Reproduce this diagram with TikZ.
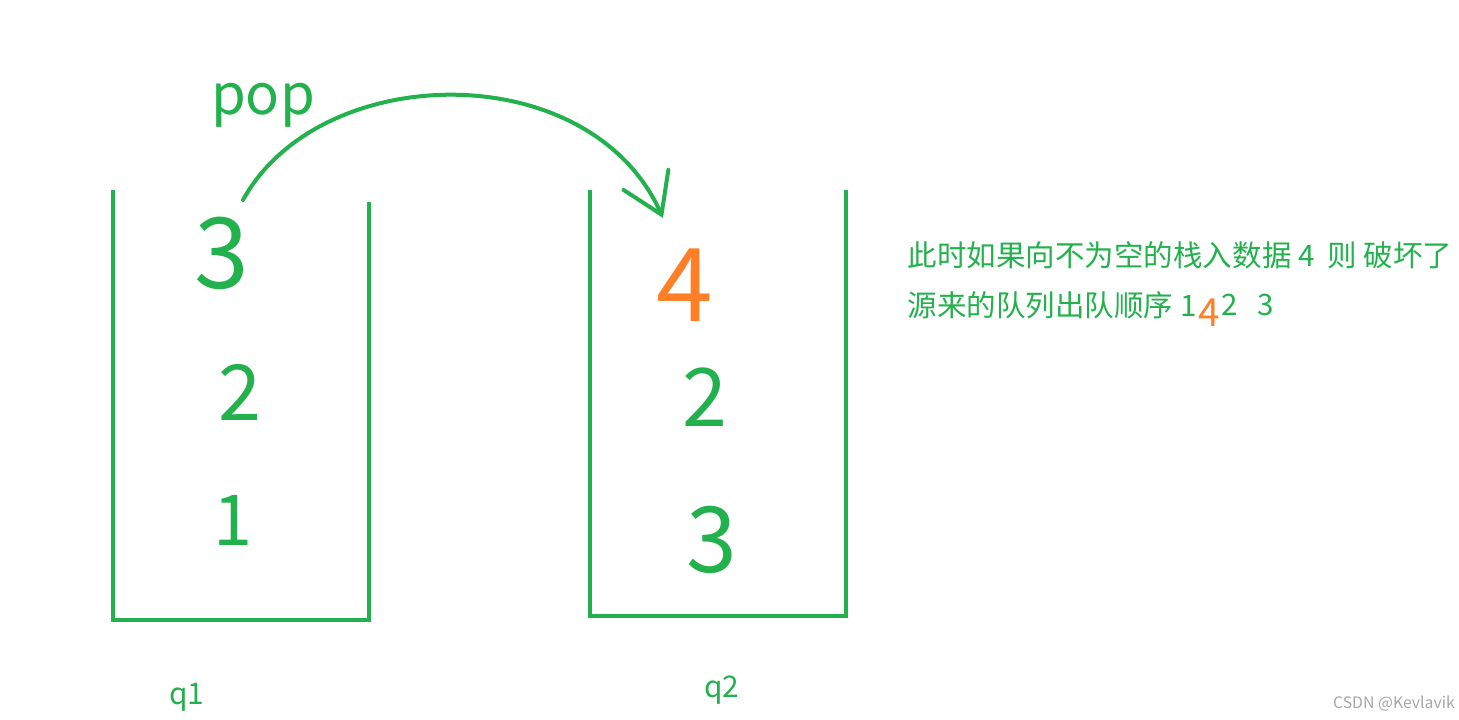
\documentclass[tikz,border=0pt]{standalone}
\usepackage{fontspec}
\setmainfont{Noto Sans CJK SC}
\usetikzlibrary{arrows.meta,positioning}
\definecolor{paintgreen}{RGB}{34,177,76}
\definecolor{paintorange}{RGB}{255,127,39}

\begin{document}
\begin{tikzpicture}
    \tikzstyle{wall} = [draw=paintgreen, line width=0.4mm, line join=miter]
    \tikzstyle{num} = [text=paintgreen, inner sep=0pt]
    \tikzstyle{note} = [text=paintgreen, inner sep=0pt, anchor=west, font=\fontsize{8.4}{10}\selectfont]
    \tikzstyle{popline} = [draw=paintgreen, line width=0.4mm, line cap=round, -{Straight Barb[length=3.8mm,width=4.9mm,line cap=round]}]

    \useasboundingbox (0,0) rectangle (14.59,-7.19);

    % Stack q1
    \draw[wall] (1.13,-1.90) -- (1.13,-6.20) -- (3.69,-6.20) -- (3.69,-2.02);
    \node[num, font=\fontsize{28}{28}\selectfont] (a3) at (2.22,-2.53) {3};
    \node[num, font=\fontsize{22}{22}\selectfont] (a2) at (2.40,-3.92) {2};
    \node[num, font=\fontsize{20}{20}\selectfont] (a1) at (2.33,-5.20) {1};
    \node[num, font=\fontsize{8.5}{10}\selectfont] (q1) at (1.87,-6.97) {q1};

    % Stack q2
    \draw[wall] (5.90,-1.90) -- (5.90,-6.16) -- (8.46,-6.16) -- (8.46,-1.90);
    \node[num, text=paintorange, font=\fontsize{29}{29}\selectfont] (b4) at (6.85,-2.85) {4};
    \node[num, font=\fontsize{23}{23}\selectfont] (b2) at (7.05,-3.97) {2};
    \node[num, font=\fontsize{26}{26}\selectfont] (b3) at (7.12,-5.40) {3};
    \node[num, font=\fontsize{8.5}{10}\selectfont] (q2) at (7.22,-6.90) {q2};

    % pop arrow
    \coordinate (popstart) at (2.43,-2.00);
    \coordinate (popend) at (6.63,-2.18);
    \node[num, font=\fontsize{16}{16}\selectfont] (pop) at (2.63,-1.05) {pop};
    \draw[popline] (popstart) .. controls (3.2,-0.6) and (5.9,-0.55) .. (popend);

    % Note
    \node[note] (line1) at (9.07,-2.55) {此时如果向不为空的栈入数据 4\ \ 则 破坏了};
    \node[note] (line2) at (9.07,-3.05) {源来的队列出队顺序 1};
    \node[num, text=paintorange, font=\fontsize{11}{11}\selectfont, right=0.3pt of line2, yshift=-0.8mm] (in4) {4};
    \node[note] (line2b) at (in4.east |- line2) {2\ \ \ 3};

    % Watermark
    \node[text=gray!70, font=\fontsize{4.5}{5}\selectfont, inner sep=0pt] (mark) at (13.94,-7.04) {CSDN @Kevlavik};
\end{tikzpicture}
\end{document}
